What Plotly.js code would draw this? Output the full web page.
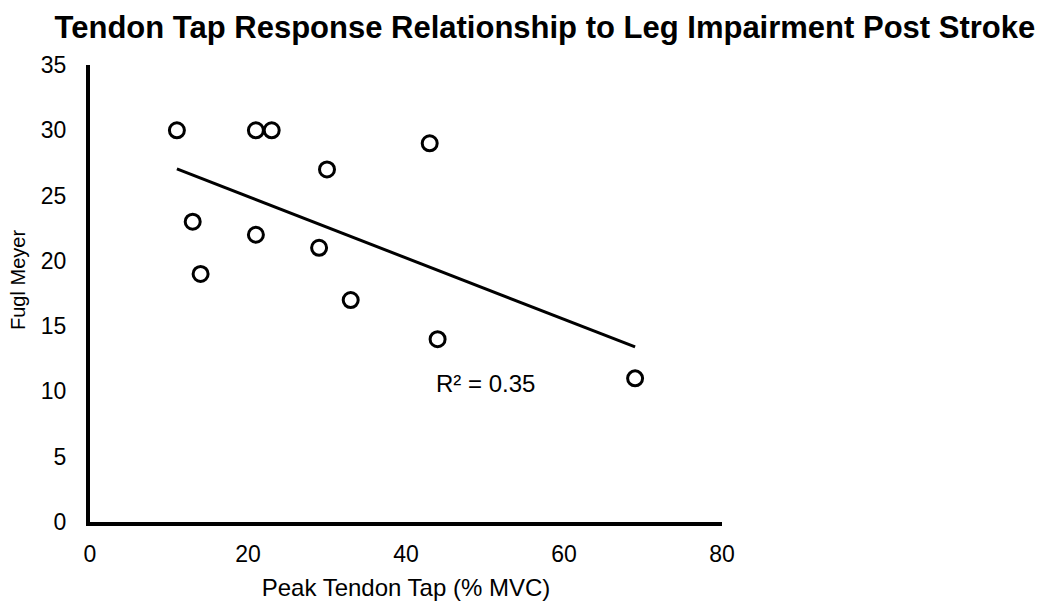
<!DOCTYPE html>
<html>
<head>
<meta charset="utf-8">
<script src="https://cdn.plot.ly/plotly-3.0.1.min.js"></script>
<style>html,body{margin:0;padding:0;background:#fff;}#chart{width:1052px;height:603px;}</style>
</head>
<body>
<div id="chart"></div>
<script>
// Data
var peakTendonTap = [11, 13, 14, 21, 23, 21, 30, 29, 33, 43, 44, 69];
var fuglMeyer     = [30, 23, 19, 30, 30, 22, 27, 21, 17, 29, 14, 11];
var xTicks = [0, 20, 40, 60, 80];
var yTicks = [0, 5, 10, 15, 20, 25, 30, 35];
var titleText = "Tendon Tap Response Relationship to Leg Impairment Post Stroke";
var xTitle = "Peak Tendon Tap (% MVC)";
var yTitle = "Fugl Meyer";

// Linear least-squares trendline computed from the data
var n = peakTendonTap.length;
var mx = peakTendonTap.reduce(function(a,b){return a+b;},0)/n;
var my = fuglMeyer.reduce(function(a,b){return a+b;},0)/n;
var sxy=0, sxx=0, syy=0;
for (var i=0;i<n;i++){
  var dx=peakTendonTap[i]-mx, dy=fuglMeyer[i]-my;
  sxy+=dx*dy; sxx+=dx*dx; syy+=dy*dy;
}
var slope = sxy/sxx, intercept = my - slope*mx;
var r2 = (sxy*sxy)/(sxx*syy);
var xmin = Math.min.apply(null, peakTendonTap), xmax = Math.max.apply(null, peakTendonTap);
var trendX = [xmin, xmax];
var trendY = trendX.map(function(x){return intercept + slope*x;});

var font = "Liberation Sans, Arial, sans-serif";

var traces = [
  {x: trendX, y: trendY, mode: 'lines', type: 'scatter',
   line: {color: '#000', width: 3}, hoverinfo: 'skip', showlegend: false},
  {x: peakTendonTap, y: fuglMeyer, mode: 'markers', type: 'scatter',
   marker: {symbol: 'circle-open', size: 15, color: '#000', line: {color: '#000', width: 3}},
   showlegend: false}
];

var layout = {
  width: 1052, height: 603,
  margin: {l: 90, r: 330, t: 65, b: 81},
  paper_bgcolor: '#fff', plot_bgcolor: '#fff',
  font: {family: font, color: '#000', size: 24},
  title: {text: '<b>' + titleText + '</b>', font: {family: font, size: 31, color: '#000'},
          xref: 'container', yref: 'container', x: 0.518, xanchor: 'center', y: 1 - 27/603, yanchor: 'middle'},
  xaxis: {range: [0, 80], tickvals: xTicks, ticktext: xTicks.map(String),
          showgrid: false, zeroline: false, showline: true, linecolor: '#000', linewidth: 4,
          ticks: '', ticklabelstandoff: 8, tickfont: {size: 23},
          title: {text: xTitle, font: {size: 24}, standoff: 15}},
  yaxis: {range: [0, 35], tickvals: yTicks, ticktext: yTicks.map(String),
          showgrid: false, zeroline: false, showline: true, linecolor: '#000', linewidth: 4,
          ticks: '', ticklabelstandoff: 15, tickfont: {size: 23}},
  annotations: [
    {x: 50, y: 10.6, xref: 'x', yref: 'y', text: 'R² = ' + r2.toFixed(2),
     showarrow: false, font: {size: 24, color: '#000'}},
    {x: -0.114, y: 0.5295, xref: 'paper', yref: 'paper', text: yTitle, textangle: -90,
     xanchor: 'center', yanchor: 'middle', showarrow: false, font: {size: 20, color: '#000'}}
  ]
};

Plotly.newPlot('chart', traces, layout, {displayModeBar: false, staticPlot: true});
</script>
</body>
</html>
